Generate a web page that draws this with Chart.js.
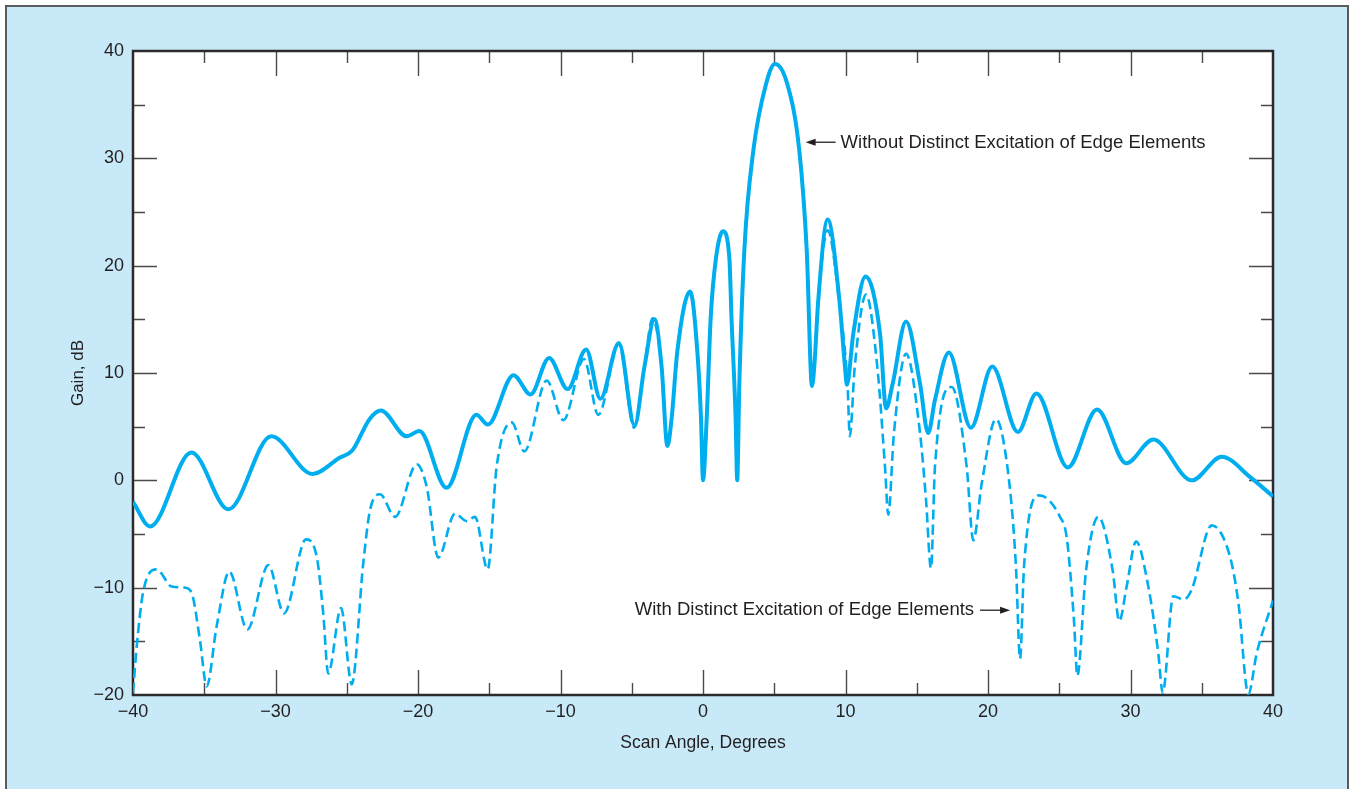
<!DOCTYPE html>
<html>
<head>
<meta charset="utf-8">
<title>Gain vs Scan Angle</title>
<script src="https://cdn.jsdelivr.net/npm/chart.js@4.4.1/dist/chart.umd.min.js"></script>
<style>
  html, body { margin: 0; padding: 0; background: #fff; overflow: hidden; }
  #frame {
    position: absolute; left: 5px; top: 5px; width: 1340px; height: 782px;
    border: 2px solid #5b5b5b; border-bottom: none; background: #c7e9f8;
  }
  #wrap { position: absolute; left: 0; top: 0; width: 1349px; height: 789px; }
</style>
</head>
<body>
<div id="frame"></div>
<div id="wrap"><canvas id="gainChart"></canvas></div>
<script>
// Without distinct excitation of edge elements (solid)
const noEdgeAngle = [-40.0, -38.8, -35.9, -33.3, -30.3, -27.4, -25.5, -24.6, -23.4, -22.6, -20.8, -19.9, -18.0, -15.9, -15.1, -13.3, -12.1, -10.8, -9.5, -8.2, -7.2, -5.9, -4.8, -4.12, -3.4, -2.9, -2.5, -2.2, -1.8, -0.9, -0.4, -0.14, 0.0, 0.26, 0.54, 0.91, 1.4, 1.85, 2.0, 2.29, 2.4, 2.55, 2.9, 3.53, 4.42, 5.05, 5.92, 6.76, 7.28, 7.65, 7.81, 8.09, 8.75, 9.57, 9.96, 10.1, 10.55, 11.4, 12.42, 12.85, 13.31, 14.25, 15.23, 15.8, 16.28, 17.25, 18.8, 20.3, 22.1, 23.4, 25.6, 27.65, 29.7, 31.6, 34.3, 36.4, 38.4, 40.0];
const noEdgeGain = [-2.0, -4.3, 2.6, -2.7, 4.1, 0.6, 2.1, 2.8, 5.7, 6.5, 4.1, 4.6, -0.7, 6.1, 5.2, 9.8, 8.0, 11.4, 8.5, 12.2, 7.6, 12.8, 5.1, 10.5, 15.0, 10.5, 3.2, 5.8, 12.05, 17.6, 12.05, 5.8, 0.0, 5.8, 15.15, 20.7, 23.2, 20.7, 15.15, 5.8, 0.0, 9.0, 21.4, 30.7, 36.9, 38.8, 36.9, 30.7, 21.4, 8.8, 10.6, 16.8, 24.3, 16.8, 10.6, 8.9, 13.7, 19.0, 13.7, 6.7, 9.0, 14.8, 9.0, 4.4, 7.5, 11.9, 4.9, 10.6, 4.5, 8.1, 1.2, 6.6, 1.6, 3.8, 0.0, 2.2, 0.3, -1.5];

// With distinct excitation of edge elements (dashed)
const edgeAngle = [-40.0, -39.74, -39.3, -38.34, -37.28, -36.35, -35.88, -35.3, -34.83, -34.13, -33.24, -31.98, -30.5, -29.4, -27.86, -27.11, -26.65, -26.3, -25.4, -24.65, -23.84, -23.37, -22.67, -21.61, -20.09, -19.39, -18.58, -17.4, -16.58, -16.0, -15.11, -14.48, -13.42, -12.54, -10.97, -9.8, -8.35, -7.35, -5.9, -4.84, -4.12, -3.54, -2.9, -2.5, -2.2, -1.8, -0.9, -0.4, -0.14, 0.0, 0.26, 0.54, 0.91, 1.4, 1.85, 2.0, 2.29, 2.4, 2.55, 2.9, 3.53, 4.42, 5.05, 5.92, 6.76, 7.28, 7.65, 7.81, 8.09, 8.75, 9.57, 10.15, 10.3, 10.65, 11.44, 12.23, 12.77, 13.0, 13.4, 14.25, 15.23, 15.65, 16.0, 16.28, 17.45, 18.5, 18.97, 19.56, 20.56, 21.5, 21.96, 22.25, 22.53, 23.6, 25.05, 25.52, 26.03, 26.27, 26.88, 27.74, 28.75, 29.21, 29.73, 30.39, 31.25, 31.95, 32.26, 33.0, 33.75, 34.29, 35.7, 36.98, 37.57, 38.27, 38.86, 40.0];
const edgeGain = [-19.8, -15.5, -10.5, -8.3, -9.9, -10.0, -10.5, -14.9, -19.2, -13.6, -8.5, -13.9, -7.9, -12.4, -5.5, -7.1, -12.4, -18.0, -11.9, -19.0, -7.7, -2.8, -1.3, -3.4, 1.5, -0.6, -7.2, -3.1, -3.8, -3.4, -8.3, 1.3, 5.4, 2.7, 9.3, 5.6, 11.3, 6.1, 12.7, 4.9, 10.5, 15.1, 10.5, 3.2, 5.8, 12.05, 17.6, 12.05, 5.8, 0.0, 5.8, 15.15, 20.7, 23.2, 20.7, 15.15, 5.8, 0.0, 9.0, 21.4, 30.7, 36.9, 38.8, 36.9, 30.7, 21.4, 8.8, 10.6, 16.8, 23.3, 16.5, 8.7, 4.1, 10.6, 17.3, 10.6, 1.3, -3.2, 4.4, 11.8, 4.4, -1.8, -8.2, 1.3, 8.7, 1.3, -5.6, -0.3, 5.7, -0.3, -8.0, -16.6, -8.0, -1.4, -3.4, -5.3, -13.0, -18.2, -8.4, -3.4, -8.4, -13.1, -9.9, -5.7, -9.9, -16.1, -19.8, -10.8, -11.1, -10.2, -4.2, -7.1, -11.4, -19.9, -16.1, -11.2];

const X_MIN = -40, X_MAX = 40, Y_MIN = -20, Y_MAX = 40;

// callouts: arrow tip in data units, label text
const noEdgeNote = { tip: [7.2, 31.5], text: "Without Distinct Excitation of Edge Elements" };
const edgeNote   = { tip: [21.55, -12.1], text: "With Distinct Excitation of Edge Elements" };

const ink = "#231f20";
const cyan = "#00aeef";
const font = '"Liberation Sans", Arial, sans-serif';

const toPts = (xs, ys) => xs.map((x, i) => ({ x, y: ys[i] }));
const minus = v => (v < 0 ? "\u2212" + Math.abs(v) : String(v));

function arrowHead(ctx, x, y, dir) {
  ctx.beginPath();
  ctx.moveTo(x, y);
  ctx.lineTo(x - dir * 10, y - 3.5);
  ctx.lineTo(x - dir * 10, y + 3.5);
  ctx.closePath();
  ctx.fill();
}

const plotDecor = {
  id: "plotDecor",
  beforeDraw(chart) {
    const { ctx, chartArea: a } = chart;
    ctx.save();
    ctx.fillStyle = "#fff";
    ctx.fillRect(a.left, a.top, a.right - a.left, a.bottom - a.top);
    ctx.restore();
  },
  beforeDatasetsDraw(chart) {
    const { ctx, chartArea: a, scales } = chart;
    ctx.save();
    ctx.strokeStyle = "#4a4a4a";
    ctx.lineWidth = 1.4;
    ctx.beginPath();
    for (let v = X_MIN + 5; v < X_MAX; v += 5) {
      const px = Math.round(scales.x.getPixelForValue(v)) + 0.5;
      const len = v % 10 === 0 ? 25 : 12;
      ctx.moveTo(px, a.top); ctx.lineTo(px, a.top + len);
      ctx.moveTo(px, a.bottom); ctx.lineTo(px, a.bottom - len);
    }
    for (let v = Y_MIN + 5; v < Y_MAX; v += 5) {
      const py = Math.round(scales.y.getPixelForValue(v)) + 0.5;
      const len = v % 10 === 0 ? 24 : 12;
      ctx.moveTo(a.left, py); ctx.lineTo(a.left + len, py);
      ctx.moveTo(a.right, py); ctx.lineTo(a.right - len, py);
    }
    ctx.stroke();
    // plot frame
    ctx.strokeStyle = "#2b2b2b";
    ctx.lineWidth = 2.5;
    ctx.strokeRect(a.left, a.top, a.right - a.left, a.bottom - a.top);
    ctx.restore();
  },
  afterDatasetsDraw(chart) {
    const { ctx, scales } = chart;
    ctx.save();
    ctx.fillStyle = ink;
    ctx.strokeStyle = ink;
    ctx.lineWidth = 1.3;
    ctx.font = "18.5px " + font;
    ctx.textBaseline = "middle";

    // left-pointing callout
    let tx = scales.x.getPixelForValue(noEdgeNote.tip[0]);
    let ty = scales.y.getPixelForValue(noEdgeNote.tip[1]);
    ctx.beginPath(); ctx.moveTo(tx + 4, ty); ctx.lineTo(tx + 30, ty); ctx.stroke();
    arrowHead(ctx, tx, ty, -1);
    ctx.textAlign = "left";
    ctx.fillText(noEdgeNote.text, tx + 35, ty + 1);

    // right-pointing callout
    tx = scales.x.getPixelForValue(edgeNote.tip[0]);
    ty = scales.y.getPixelForValue(edgeNote.tip[1]);
    ctx.beginPath(); ctx.moveTo(tx - 30, ty); ctx.lineTo(tx - 4, ty); ctx.stroke();
    arrowHead(ctx, tx, ty, 1);
    ctx.textAlign = "right";
    ctx.fillText(edgeNote.text, tx - 36, ty);
    ctx.restore();
  }
};

new Chart(document.getElementById("gainChart"), {
  type: "line",
  data: {
    datasets: [
      {
        label: "Without Distinct Excitation of Edge Elements",
        data: toPts(noEdgeAngle, noEdgeGain),
        borderColor: cyan, borderWidth: 4, pointRadius: 0,
        cubicInterpolationMode: "monotone", fill: false,
      },
      {
        label: "With Distinct Excitation of Edge Elements",
        data: toPts(edgeAngle, edgeGain),
        borderColor: cyan, borderWidth: 2.6, borderDash: [10, 5], pointRadius: 0,
        cubicInterpolationMode: "monotone", fill: false,
      },
    ],
  },
  options: {
    responsive: true, maintainAspectRatio: false, animation: false, devicePixelRatio: 1,
    layout: { padding: { left: 0, top: 51, right: 76, bottom: 0 } },
    plugins: { legend: { display: false }, tooltip: { enabled: false } },
    scales: {
      x: {
        type: "linear", min: X_MIN, max: X_MAX,
        grid: { display: false, drawTicks: false }, border: { display: false },
        ticks: { stepSize: 10, padding: 6, color: ink, font: { size: 18, family: font }, callback: v => minus(v) },
        title: { display: true, text: "Scan Angle, Degrees", color: ink, font: { size: 17.5, family: font }, padding: { top: 0, bottom: 35 } },
        afterFit: s => { s.height = 94; },
      },
      y: {
        min: Y_MIN, max: Y_MAX,
        grid: { display: false, drawTicks: false }, border: { display: false },
        ticks: { stepSize: 10, padding: 9, color: ink, font: { size: 18, family: font }, callback: v => minus(v) },
        title: { display: true, text: "Gain, dB", color: ink, font: { size: 17, family: font }, padding: { top: 68, bottom: 0 } },
        afterFit: s => { s.width = 133; },
      },
    },
  },
  plugins: [plotDecor],
});
</script>
</body>
</html>
